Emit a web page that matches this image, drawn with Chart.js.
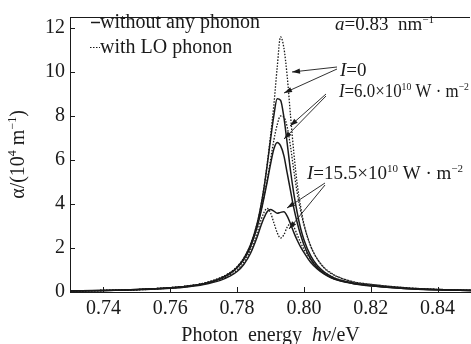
<!DOCTYPE html>
<html><head><meta charset="utf-8">
<script src="https://cdn.jsdelivr.net/npm/chart.js@4/dist/chart.umd.min.js"></script>
<style>html,body{margin:0;padding:0;background:#fff}</style>
</head><body>
<canvas id="c" width="471" height="344" style="display:block;width:471px;height:344px"></canvas>
<script>
// Photon energy (eV)
const energies = [0.73,0.74,0.75,0.76,0.765,0.77,0.775,0.778,0.78,0.782,0.784,0.786,0.787,0.788,0.789,0.790,0.791,0.792,0.793,0.794,0.795,0.796,0.797,0.798,0.799,0.800,0.802,0.804,0.806,0.808,0.81,0.815,0.82,0.83,0.84,0.85];
// absorption alpha (10^4 m^-1)
const solidI0   = [0.05,0.07,0.11,0.19,0.26,0.38,0.62,0.87,1.13,1.52,2.13,3.11,3.81,4.68,5.75,6.92,8.02,8.78,8.72,7.95,6.75,5.5,4.45,3.6,2.9,2.38,1.65,1.2,0.92,0.72,0.58,0.4,0.3,0.17,0.1,0.07];
const dottedI0  = [0.05,0.07,0.11,0.2,0.27,0.4,0.65,0.9,1.15,1.55,2.15,3.1,3.8,4.7,5.8,7.1,8.5,10.2,11.6,11.1,9.8,8.0,6.3,4.9,3.9,3.1,2.1,1.5,1.1,0.85,0.7,0.45,0.35,0.2,0.12,0.08];
const solidI6   = [0.05,0.07,0.11,0.19,0.26,0.38,0.61,0.85,1.1,1.47,2.05,2.95,3.55,4.25,5.0,5.8,6.5,6.8,6.65,6.2,5.4,4.6,3.8,3.15,2.6,2.15,1.5,1.1,0.85,0.67,0.55,0.38,0.28,0.16,0.1,0.07];
const dottedI6  = [0.05,0.07,0.11,0.2,0.27,0.4,0.64,0.88,1.12,1.5,2.1,3.0,3.6,4.3,5.1,6.0,6.9,7.6,8.0,7.95,7.5,6.6,5.5,4.5,3.7,3.05,2.1,1.5,1.12,0.88,0.7,0.46,0.35,0.2,0.12,0.08];
const solidI15  = [0.045,0.065,0.1,0.17,0.23,0.34,0.53,0.73,0.93,1.25,1.75,2.5,2.95,3.35,3.65,3.75,3.68,3.58,3.62,3.65,3.45,3.1,2.7,2.35,2.05,1.8,1.35,1.05,0.82,0.66,0.54,0.37,0.28,0.16,0.1,0.07];
const dottedI15 = [0.05,0.07,0.1,0.18,0.25,0.36,0.57,0.78,1.0,1.35,1.9,2.7,3.2,3.6,3.8,3.6,3.15,2.7,2.45,2.6,2.95,3.1,2.95,2.6,2.25,1.95,1.5,1.15,0.9,0.72,0.59,0.41,0.32,0.19,0.12,0.08];
const xTickValues = [0.74,0.76,0.78,0.80,0.82,0.84];
const yTickValues = [0,2,4,6,8,10,12];

const FONT = '"Liberation Serif","Times New Roman",serif';
const INK = '#1a1a1a';

function pts(arr){ return energies.map((e,i)=>({x:e,y:arr[i]})); }
function ds(arr, dotted){
  return {data:pts(arr), borderColor:INK, borderWidth:dotted?1.3:1.5, borderDash:dotted?[1.5,1.5]:[],
    pointRadius:0, fill:false, cubicInterpolationMode:'monotone'};
}

function drawRich(ctx, x, y, parts, size, align, maxW){
  const fontFor = (st)=> (st.includes('i')?'italic ':'') + (st.includes('s')?Math.round(size*0.6):size) + 'px ' + FONT;
  let w = 0;
  parts.forEach(([t,st])=>{ ctx.font = fontFor(st); w += ctx.measureText(t).width; });
  const k = (maxW && w > maxW) ? maxW / w : 1;
  ctx.save();
  const x0 = align==='center' ? x - w*k/2 : x;
  ctx.translate(x0, y);
  ctx.scale(k, 1);
  let cx = 0;
  ctx.textBaseline = 'alphabetic';
  ctx.textAlign = 'left';
  parts.forEach(([t,st])=>{
    ctx.font = fontFor(st);
    const dy = st.includes('s') ? -size*0.38 : 0;
    ctx.fillText(t, cx, dy);
    cx += ctx.measureText(t).width;
  });
  ctx.restore();
}

function arrow(ctx, x0, y0, x1, y1){
  ctx.beginPath(); ctx.moveTo(x0,y0); ctx.lineTo(x1,y1); ctx.stroke();
  const a = Math.atan2(y1-y0, x1-x0), L = 8, H = 2.6;
  ctx.beginPath();
  ctx.moveTo(x1,y1);
  ctx.lineTo(x1 - L*Math.cos(a) + H*Math.sin(a), y1 - L*Math.sin(a) - H*Math.cos(a));
  ctx.lineTo(x1 - L*Math.cos(a) - H*Math.sin(a), y1 - L*Math.sin(a) + H*Math.cos(a));
  ctx.closePath(); ctx.fill();
}

const decor = {
  id:'decor',
  afterDraw(chart){
    const ctx = chart.ctx, ca = chart.chartArea, xs = chart.scales.x, ys = chart.scales.y;
    ctx.save();
    ctx.strokeStyle = INK; ctx.fillStyle = INK; ctx.lineWidth = 1;
    ctx.beginPath(); ctx.moveTo(ca.left, ca.top+0.5); ctx.lineTo(ca.right-1, ca.top+0.5); ctx.stroke();
    xTickValues.forEach(v=>{ const px = Math.round(xs.getPixelForValue(v))+0.5;
      ctx.beginPath(); ctx.moveTo(px, ca.bottom); ctx.lineTo(px, ca.bottom-5); ctx.stroke(); });
    yTickValues.forEach(v=>{ const py = Math.round(ys.getPixelForValue(v))+0.5;
      ctx.beginPath(); ctx.moveTo(ca.left, py); ctx.lineTo(ca.left+5, py); ctx.stroke(); });
    // legend
    ctx.lineWidth = 1.5;
    ctx.beginPath(); ctx.moveTo(91,22.5); ctx.lineTo(100,22.5); ctx.stroke();
    ctx.lineWidth = 1.2; ctx.setLineDash([1.5,1.5]);
    ctx.beginPath(); ctx.moveTo(90,47.5); ctx.lineTo(100,47.5); ctx.stroke();
    ctx.setLineDash([]);
    drawRich(ctx, 100, 28, [['without any phonon','']], 20);
    drawRich(ctx, 100, 53, [['with LO phonon','']], 20);
    // annotations
    drawRich(ctx, 335, 30, [['a','i'],['=0.83  nm',''],['−1','s']], 19, 'left', 103);
    drawRich(ctx, 340, 76, [['I','i'],['=0','']], 19);
    drawRich(ctx, 339, 97, [['I','i'],['=6.0×10',''],['10','s'],[' W · m',''],['−2','s']], 19, 'left', 130);
    drawRich(ctx, 307, 179, [['I','i'],['=15.5×10',''],['10','s'],[' W · m',''],['−2','s']], 19, 'left', 160);
    ctx.lineWidth = 0.9;
    arrow(ctx, 337, 67, 292, 72);
    arrow(ctx, 337, 69, 284, 93);
    arrow(ctx, 326, 94, 290, 126);
    arrow(ctx, 326, 96, 284, 139);
    arrow(ctx, 325, 183, 287, 208);
    arrow(ctx, 325, 185, 289, 229);
    // axis titles
    drawRich(ctx, (ca.left+ca.right)/2, 341, [['Photon  energy  ',''],['hν','i'],['/eV','']], 20, 'center');
    ctx.save();
    ctx.translate(24, (ca.top+ca.bottom)/2);
    ctx.rotate(-Math.PI/2);
    drawRich(ctx, 0, 0, [['α/(10',''],['4','s'],[' m',''],['−1','s'],[')','']], 20, 'center');
    ctx.restore();
    ctx.restore();
  }
};

new Chart(document.getElementById('c'), {
  type:'line',
  data:{ datasets:[ds(solidI0,false), ds(dottedI0,true), ds(solidI6,false), ds(dottedI6,true), ds(solidI15,false), ds(dottedI15,true)] },
  options:{
    responsive:false, devicePixelRatio:1, animation:false,
    layout:{padding:{top:11,right:0,left:0,bottom:0}},
    plugins:{legend:{display:false}, tooltip:{enabled:false}},
    scales:{
      x:{type:'linear', min:0.73, max:0.85,
        afterBuildTicks:(s)=>{ s.ticks = xTickValues.map(v=>({value:v})); },
        afterFit:(s)=>{ s.height = 52; },
        grid:{drawOnChartArea:false, drawTicks:false},
        border:{display:true, color:INK, width:1},
        ticks:{padding:5, color:INK, font:{family:FONT, size:20}, callback:(v)=>Number(v).toFixed(2), maxRotation:0, autoSkip:false}
      },
      y:{type:'linear', min:0, max:12.5,
        afterBuildTicks:(s)=>{ s.ticks = yTickValues.map(v=>({value:v})); },
        afterFit:(s)=>{ s.width = 70; },
        grid:{drawOnChartArea:false, drawTicks:false},
        border:{display:true, color:INK, width:1},
        ticks:{padding:5, color:INK, font:{family:FONT, size:20}, callback:(v)=>String(v)}
      }
    }
  },
  plugins:[decor]
});
</script>
</body></html>
